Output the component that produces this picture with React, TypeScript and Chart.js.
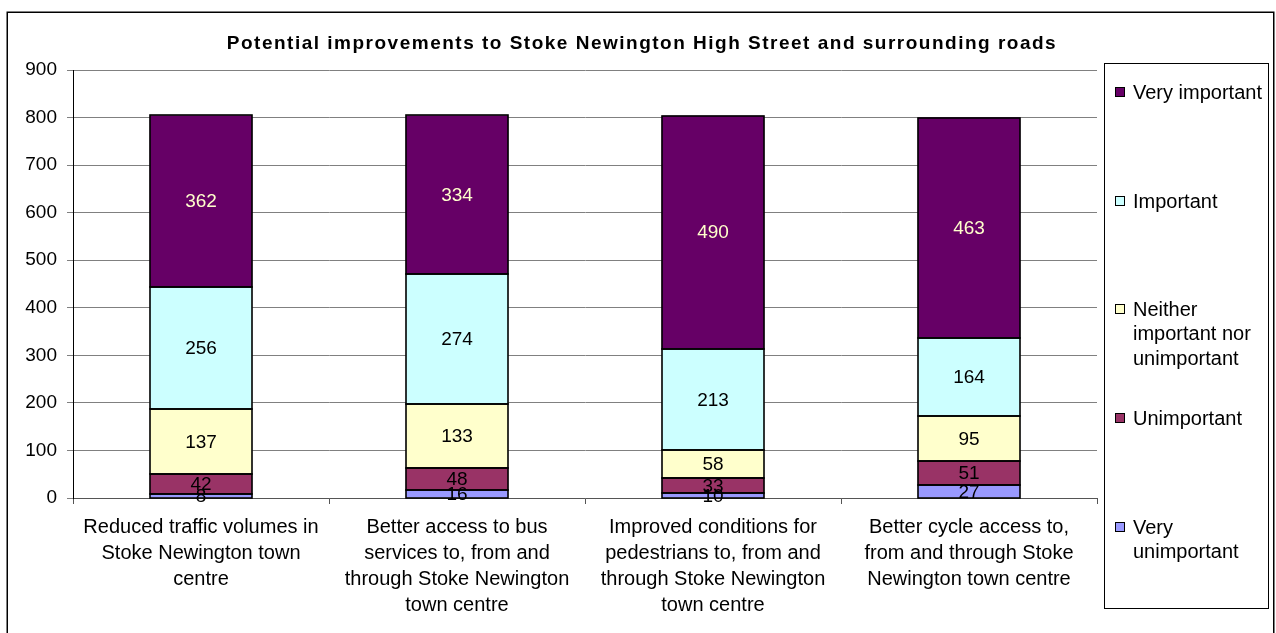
import React, { useEffect, useRef } from "react";
import { Chart, registerables } from "chart.js";

Chart.register(...registerables);

const titleText = "Potential improvements to Stoke Newington High Street and surrounding roads";

const categories: string[][] = [
  ["Reduced traffic volumes in", "Stoke Newington town", "centre"],
  ["Better access to bus", "services to, from and", "through Stoke Newington", "town centre"],
  ["Improved conditions for", "pedestrians to, from and", "through Stoke Newington", "town centre"],
  ["Better cycle access to,", "from and through Stoke", "Newington town centre"],
];

const veryUnimportant = [8, 16, 10, 27];
const unimportant = [42, 48, 33, 51];
const neither = [137, 133, 58, 95];
const important = [256, 274, 213, 164];
const veryImportant = [362, 334, 490, 463];

const seriesNames = [
  "Very unimportant",
  "Unimportant",
  "Neither important nor unimportant",
  "Important",
  "Very important",
];
const seriesColors = ["#9999FF", "#993366", "#FFFFCC", "#CCFFFF", "#660066"];
const labelColors = ["#000000", "#000000", "#000000", "#000000", "#FFFFCC"];

// legend entries, top to bottom, with wrapped lines (index into series)
const legendOrder = [4, 3, 2, 1, 0];
const legendLines: string[][] = [
  ["Very important"],
  ["Important"],
  ["Neither", "important nor", "unimportant"],
  ["Unimportant"],
  ["Very", "unimportant"],
];

const yMin = 0;
const yMax = 900;
const yStep = 100;

const FONT = "'Liberation Sans', Arial, sans-serif";

const decorPlugin = {
  id: "decor",
  afterDatasetsDraw(chart: any) {
    const ctx = chart.ctx as CanvasRenderingContext2D;
    ctx.save();
    ctx.strokeStyle = "#000";
    ctx.lineWidth = 1.6;
    chart.data.datasets.forEach((_ds: any, di: number) => {
      const meta = chart.getDatasetMeta(di);
      meta.data.forEach((bar: any) => {
        const l = Math.round(bar.x - bar.width / 2);
        const r = Math.round(bar.x + bar.width / 2);
        const t = Math.round(bar.y);
        const b = Math.round(bar.base);
        ctx.strokeRect(l, t, r - l, b - t);
      });
    });
    ctx.restore();
  },
  afterDraw(chart: any) {
    const ctx = chart.ctx as CanvasRenderingContext2D;
    // data labels
    ctx.save();
    ctx.font = `19px ${FONT}`;
    ctx.textAlign = "center";
    ctx.textBaseline = "middle";
    chart.data.datasets.forEach((ds: any, di: number) => {
      const meta = chart.getDatasetMeta(di);
      meta.data.forEach((bar: any, i: number) => {
        const v = ds.data[i];
        const cy = (bar.y + bar.base) / 2;
        ctx.fillStyle = labelColors[di];
        ctx.fillText(String(v), bar.x, cy + 1);
      });
    });
    ctx.restore();

    // title
    ctx.save();
    ctx.font = `bold 19px ${FONT}`;
    (ctx as any).letterSpacing = "1.5px";
    ctx.fillStyle = "#000";
    ctx.textAlign = "center";
    ctx.textBaseline = "middle";
    ctx.fillText(titleText, 642, 44);
    ctx.restore();

    // outer frame
    ctx.save();
    ctx.strokeStyle = "#000";
    ctx.lineWidth = 1.5;
    ctx.strokeRect(7.25, 12.25, 1266.5, 700);
    // legend box
    ctx.lineWidth = 1;
    ctx.strokeRect(1104.5, 63.5, 164, 545);
    // legend items
    const itemY = [92, 201, 309, 418, 527];
    const lh = 24.5;
    ctx.font = `20px ${FONT}`;
    ctx.textAlign = "left";
    ctx.textBaseline = "middle";
    legendOrder.forEach((si, k) => {
      const y = itemY[k];
      ctx.fillStyle = seriesColors[si];
      ctx.fillRect(1115, y - 5, 10, 10);
      ctx.strokeStyle = "#000";
      ctx.lineWidth = 1;
      ctx.strokeRect(1115.5, y - 4.5, 9, 9);
      ctx.fillStyle = "#000";
      legendLines[k].forEach((line, j) => {
        ctx.fillText(line, 1133, y + j * lh + 1);
      });
    });
    ctx.restore();
  },
};

export default function App() {
  const ref = useRef<HTMLCanvasElement | null>(null);

  useEffect(() => {
    if (!ref.current) return;
    const series = [veryUnimportant, unimportant, neither, important, veryImportant];
    const chart = new Chart(ref.current, {
      type: "bar",
      data: {
        labels: categories,
        datasets: series.map((d, i) => ({
          label: seriesNames[i],
          data: d,
          backgroundColor: seriesColors[i],
          borderWidth: 0,
          inflateAmount: 0,
          barPercentage: 1,
          categoryPercentage: 0.4,
        })),
      },
      options: {
        responsive: false,
        animation: false,
        layout: { padding: { left: 0, right: 179, top: 70, bottom: 0 } },
        plugins: {
          legend: { display: false },
          tooltip: { enabled: false },
          title: { display: false },
        },
        scales: {
          x: {
            stacked: true,
            grid: {
              display: true,
              drawOnChartArea: false,
              drawTicks: true,
              tickLength: 6,
              color: "#555",
            },
            border: { display: true, color: "#555", width: 1 },
            ticks: {
              color: "#000",
              padding: 10,
              maxRotation: 0,
              autoSkip: false,
              font: { family: FONT, size: 20, lineHeight: 1.3 },
            },
            afterFit: (s: any) => {
              s.height = 135;
            },
          },
          y: {
            stacked: true,
            min: yMin,
            max: yMax,
            ticks: {
              stepSize: yStep,
              color: "#000",
              padding: 10,
              font: { family: FONT, size: 19 },
            },
            grid: { color: "#808080", tickLength: 6, lineWidth: 1 },
            border: { display: true, color: "#000", width: 1 },
            afterFit: (s: any) => {
              s.width = 73;
            },
          },
        },
      },
      plugins: [decorPlugin],
    } as any);
    return () => chart.destroy();
  }, []);

  return (
    <div style={{ position: "fixed", left: 0, top: 0, width: 1276, height: 633, background: "#fff" }}>
      <canvas ref={ref} width={1276} height={633} style={{ display: "block" }} />
    </div>
  );
}
